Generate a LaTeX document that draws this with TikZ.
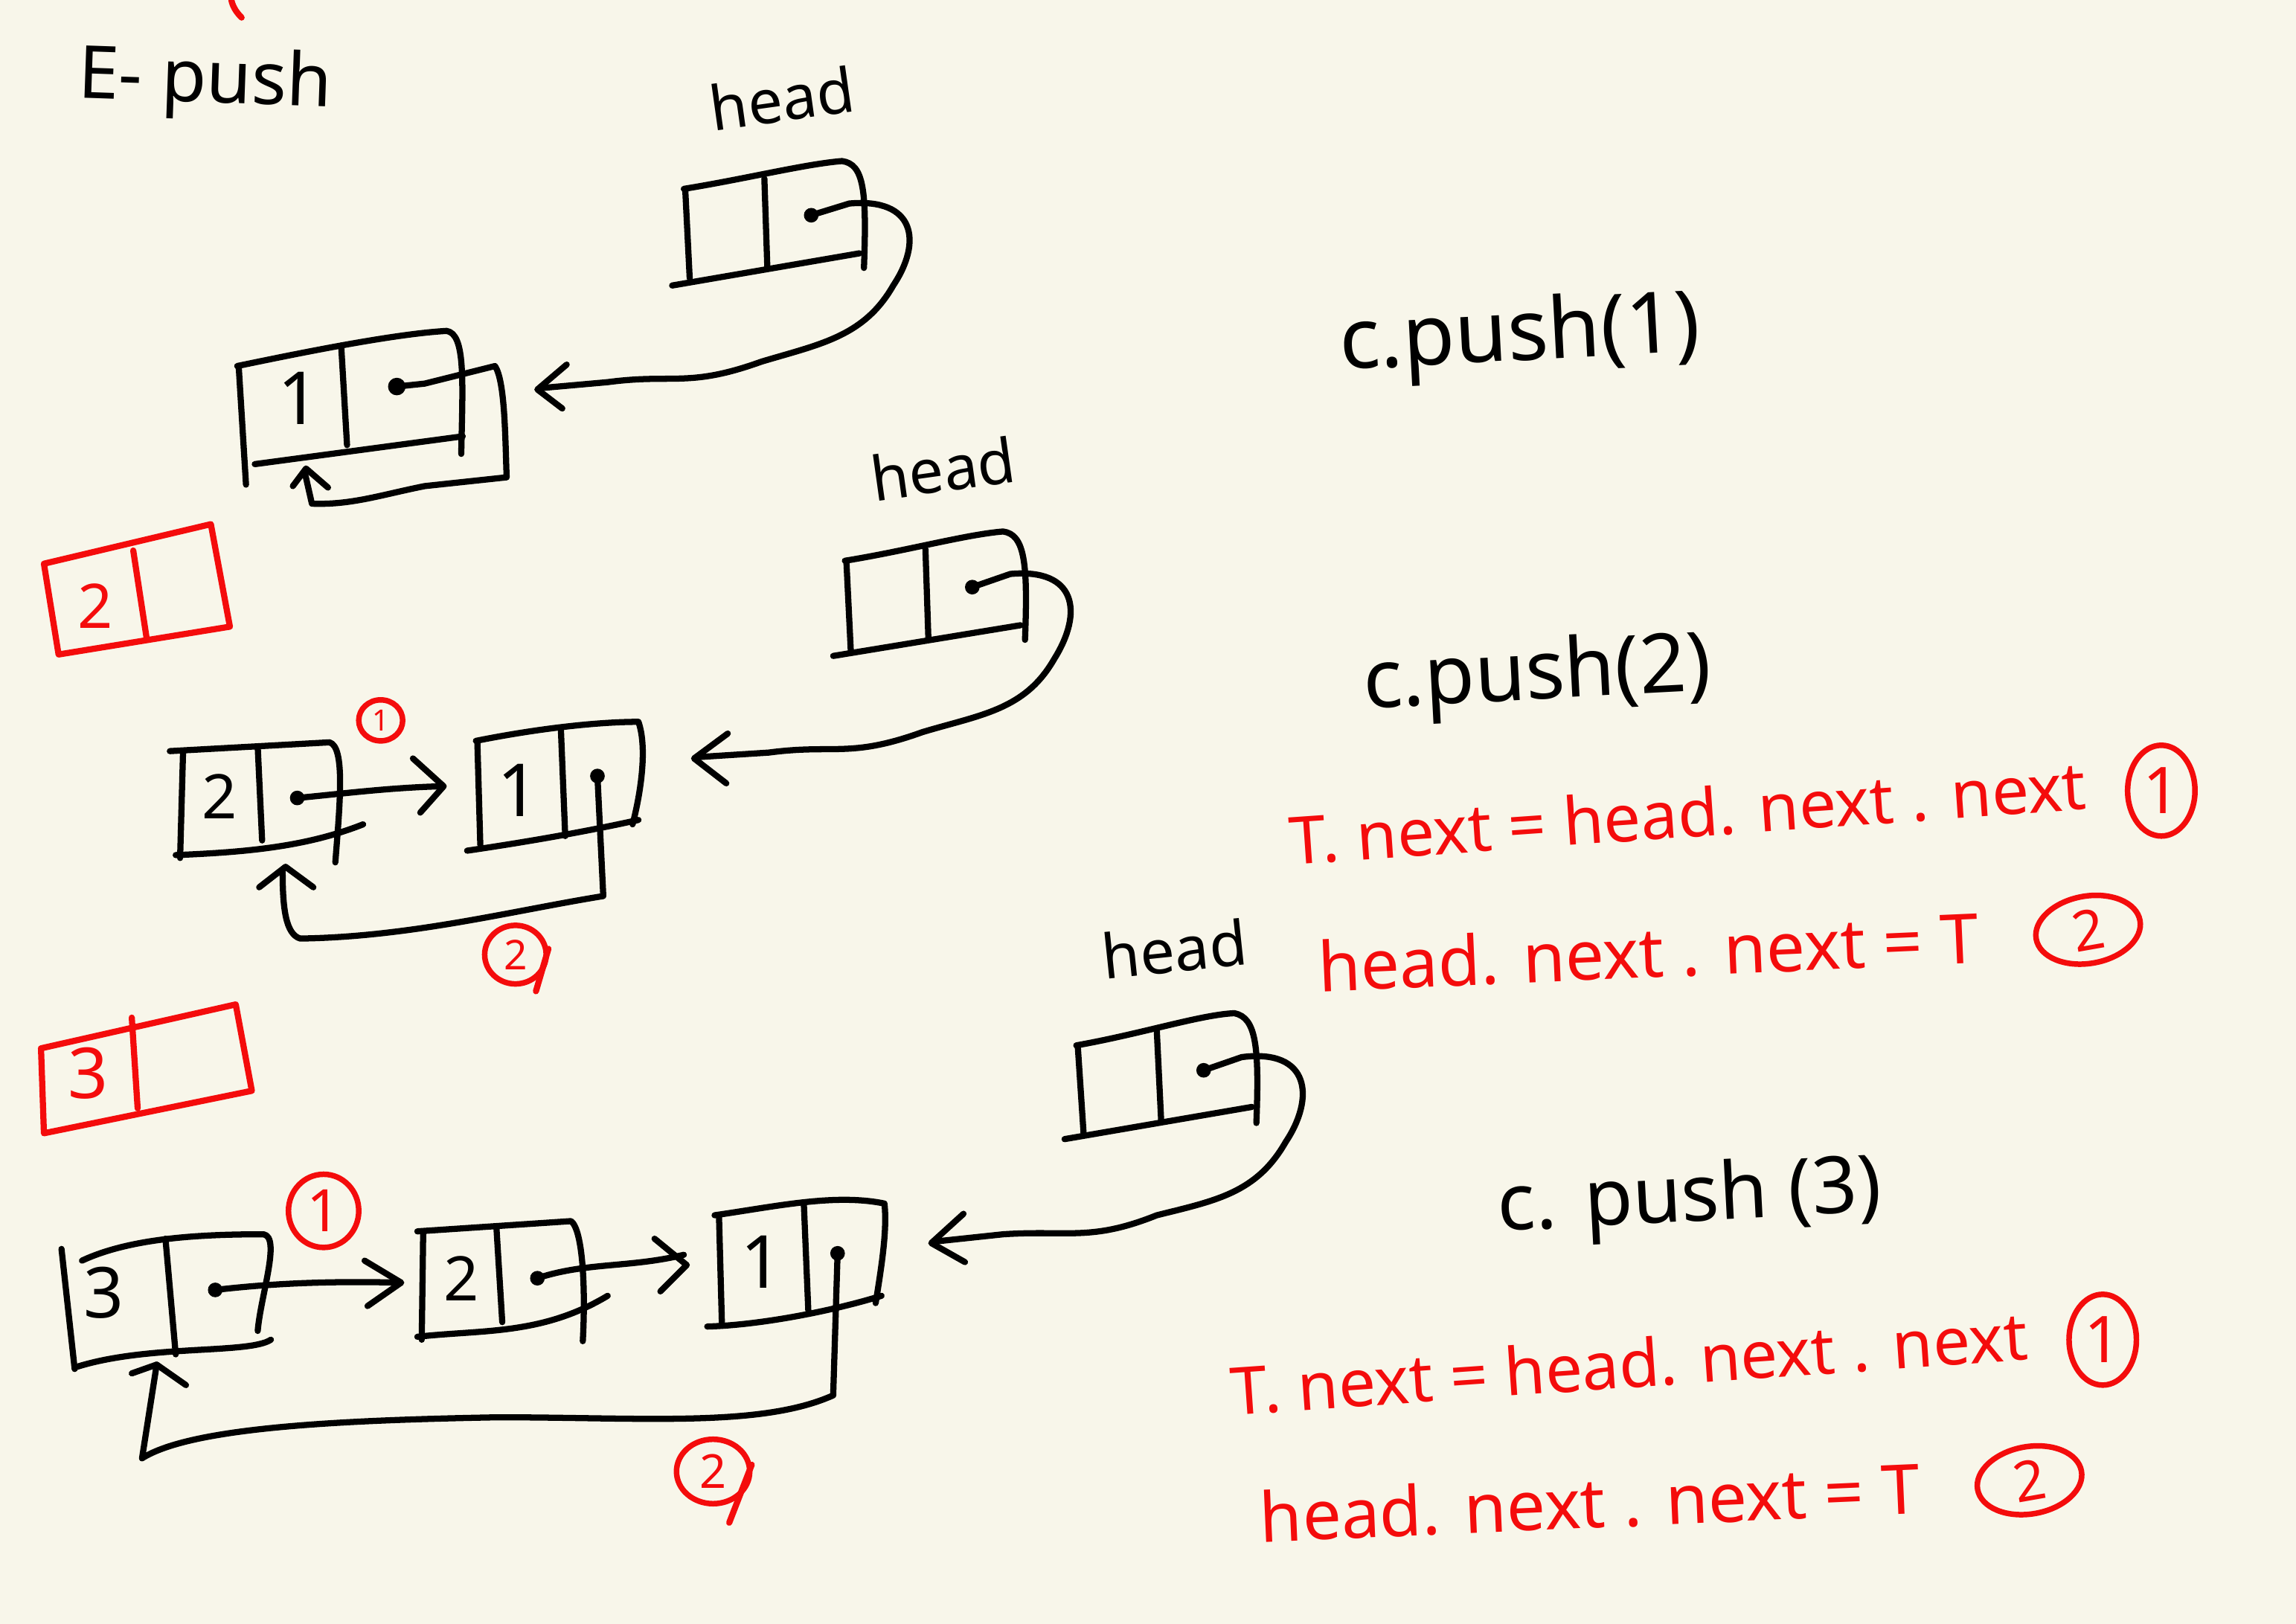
\documentclass[tikz,border=0pt]{standalone}
\usepackage{fontspec}
\usetikzlibrary{shapes.geometric}
\setmainfont{Noto Sans}
\definecolor{paper}{HTML}{F8F6EA}
\definecolor{inkred}{HTML}{F40C0C}
\tikzset{
 x=0.5pt,y=-0.5pt,
 ink/.style={draw=black,line width=2.1pt,line cap=round,line join=round},
 redink/.style={draw=inkred,line width=2.1pt,line cap=round,line join=round},
 blacktext/.style={text=black,inner sep=0pt},
 redtext/.style={text=inkred,inner sep=0pt},
 dotb/.style={fill=black,draw=none},
 circ/.style={redtext,draw=inkred,ellipse,line width=1.9pt,inner sep=0pt},
}
\begin{document}
\begin{tikzpicture}
\path[use as bounding box,fill=paper] (0,0) rectangle (1568,1109);
\draw[redink] (158,0) .. controls (159,5) and (162,9) .. (165,12);
% title
\node[blacktext,font=\fontsize{25}{25}\selectfont,rotate=-2] (title) at (140,57) {E- push};
% head 1
\node[blacktext,font=\fontsize{21}{21}\selectfont,rotate=8] (h1) at (534,67) {head};
\draw[ink] (467,129) .. controls (510,122) and (550,112) .. (575,110) .. controls (590,112) and (592,130) .. (590,183);
\draw[ink] (468,130) -- (471,190);
\draw[ink] (522,122) -- (524,182);
\draw[ink] (459,195) -- (587,173);
\fill[dotb] (554,147) circle (5);
\draw[ink] (554,147) -- (580,139) .. controls (625,135) and (630,165) .. (610,195) .. controls (590,230) and (560,235) .. (520,247) .. controls (470,265) and (460,255) .. (415,261) -- (370,265);
\draw[ink] (387,249) -- (367,266) -- (384,279);
% node 1
\draw[ink] (162,250) .. controls (210,240) and (270,228) .. (305,226) .. controls (318,228) and (316,260) .. (315,310);
\draw[ink] (163,250) -- (168,331);
\draw[ink] (233,236) -- (237,304);
\draw[ink] (174,317) -- (316,298);
\node[blacktext,font=\fontsize{25}{25}\selectfont] (v1) at (204,272) {1};
\fill[dotb] (271,264) circle (6);
\draw[ink] (271,264) -- (290,262) -- (338,250) .. controls (345,260) and (345,300) .. (346,326) -- (290,332) .. controls (260,338) and (240,345) .. (213,344) -- (208,322);
\draw[ink] (200,332) -- (209,320) -- (224,333);
% c.push(1)
\node[blacktext,font=\fontsize{29}{29}\selectfont,rotate=3] (p1) at (1038,231) {c.push(1)};
% red box 2
\draw[redink] (30,385) -- (144,358) -- (157,428) -- (40,447) -- cycle;
\draw[redink] (91,376) -- (100,435);
\node[redtext,font=\fontsize{21}{21}\selectfont] (r2) at (65,414) {2};
% head 2
\node[blacktext,font=\fontsize{21}{21}\selectfont,rotate=8] (h2) at (644,320) {head};
\draw[ink] (577,383) .. controls (620,376) and (660,365) .. (685,363) .. controls (700,365) and (702,385) .. (700,437);
\draw[ink] (578,383) -- (581,444);
\draw[ink] (632,375) -- (634,436);
\draw[ink] (569,448) -- (697,427);
\fill[dotb] (664,401) circle (5);
\draw[ink] (664,401) -- (690,392) .. controls (735,388) and (740,418) .. (720,450) .. controls (700,485) and (670,488) .. (630,500) .. controls (580,518) and (570,508) .. (525,514) -- (478,517);
\draw[ink] (497,501) -- (474,518) -- (496,535);
% node 2 (value 2)
\draw[ink] (116,513) -- (225,507) .. controls (236,510) and (232,550) .. (229,589);
\draw[ink] (125,514) -- (123,586);
\draw[ink] (176,510) -- (179,574);
\draw[ink] (120,584) .. controls (170,582) and (210,578) .. (248,563);
\node[blacktext,font=\fontsize{21}{21}\selectfont] (v2) at (150,544) {2};
\fill[dotb] (203,545) circle (5);
\draw[ink] (203,545) .. controls (235,542) and (265,538) .. (302,537);
\draw[ink] (282,518) -- (303,537) -- (287,555);
% node 1 second row
\draw[ink] (325,506) .. controls (370,497) and (410,493) .. (436,493) .. controls (442,510) and (438,540) .. (432,563);
\draw[ink] (326,507) -- (328,577);
\draw[ink] (383,497) -- (386,571);
\draw[ink] (319,581) .. controls (360,575) and (400,568) .. (436,560);
\node[blacktext,font=\fontsize{25}{25}\selectfont] (v1b) at (354,540) {1};
\fill[dotb] (408,530) circle (5);
\draw[ink] (408,530) -- (412,612) .. controls (350,622) and (280,640) .. (205,641) .. controls (195,638) and (193,620) .. (193,595);
\draw[ink] (177,606) -- (195,592) -- (214,606);
% labels circled
\node[circ,minimum width=15pt,minimum height=14pt,font=\fontsize{10}{10}\selectfont] (c1a) at (260,492) {1};
\node[circ,minimum width=21pt,minimum height=20pt,font=\fontsize{14}{14}\selectfont] (c2a) at (352,652) {2};
\draw[redink] (c2a.10) -- (366,677);
% c.push(2)
\node[blacktext,font=\fontsize{28}{28}\selectfont,rotate=3] (p2) at (1050,463) {c.push(2)};
% red code 1
\node[redtext,font=\fontsize{22.5}{22.5}\selectfont,rotate=4,anchor=west] (t1a) at (880,574) {T. next = head. next . next};
\node[circ,minimum width=23pt,minimum height=31pt,font=\fontsize{22}{22}\selectfont] (c1b) at (1476,540) {1};
\node[redtext,font=\fontsize{23.5}{23.5}\selectfont,rotate=2.5,anchor=west] (t2a) at (900,660) {head. next . next = T};
\node[circ,minimum width=36pt,minimum height=23pt,font=\fontsize{19}{19}\selectfont,rotate=10] (c2b) at (1426,635) {2};
% red box 3
\draw[redink] (28,716) -- (161,686) -- (172,745) -- (30,774) -- cycle;
\draw[redink] (90,695) -- (94,757);
\node[redtext,font=\fontsize{24}{24}\selectfont] (r3) at (60,733) {3};
% head 3
\node[blacktext,font=\fontsize{21}{21}\selectfont,rotate=6] (h3) at (802,648) {head};
\draw[ink] (735,714) .. controls (780,706) and (820,693) .. (843,692) .. controls (858,695) and (860,715) .. (858,767);
\draw[ink] (736,714) -- (740,774);
\draw[ink] (790,704) -- (793,766);
\draw[ink] (727,778) -- (855,756);
\fill[dotb] (822,731) circle (5);
\draw[ink] (822,731) -- (848,722) .. controls (895,716) and (898,750) .. (878,780) .. controls (858,815) and (830,820) .. (790,830) .. controls (745,848) and (730,840) .. (685,843) -- (638,848);
\draw[ink] (658,829) -- (636,849) -- (659,862);
% node 3
\draw[ink] (56,861) .. controls (90,845) and (140,843) .. (180,843) .. controls (192,845) and (178,885) .. (176,909);
\draw[ink] (42,853) -- (51,935);
\draw[ink] (113,846) -- (120,925);
\draw[ink] (51,934) .. controls (100,918) and (170,925) .. (185,915);
\node[blacktext,font=\fontsize{24}{24}\selectfont] (v3) at (71,883) {3};
\fill[dotb] (147,881) circle (5);
\draw[ink] (147,881) .. controls (190,876) and (230,875) .. (272,876);
\draw[ink] (249,861) -- (274,876) -- (251,892);
% node 2 row 3
\draw[ink] (285,841) -- (390,834) .. controls (398,840) and (400,880) .. (398,916);
\draw[ink] (289,842) -- (288,915);
\draw[ink] (339,838) -- (343,903);
\draw[ink] (285,913) .. controls (330,908) and (370,912) .. (415,885);
\node[blacktext,font=\fontsize{21}{21}\selectfont] (v2c) at (315,873) {2};
\fill[dotb] (367,873) circle (5);
\draw[ink] (367,873) .. controls (400,862) and (430,866) .. (467,857);
\draw[ink] (447,846) -- (469,864) -- (451,882);
% node 1 row 3
\draw[ink] (488,830) .. controls (530,824) and (570,815) .. (604,822) .. controls (606,840) and (602,865) .. (598,890);
\draw[ink] (491,830) -- (493,904);
\draw[ink] (549,823) -- (552,895);
\draw[ink] (483,906) .. controls (520,905) and (570,895) .. (602,885);
\node[blacktext,font=\fontsize{25}{25}\selectfont] (v1c) at (520,862) {1};
\fill[dotb] (572,856) circle (5);
\draw[ink] (572,856) -- (569,953) .. controls (520,975) and (440,968) .. (340,968) .. controls (230,970) and (130,975) .. (97,996) -- (107,932);
\draw[ink] (90,938) -- (107,932) -- (127,946);
\node[circ,minimum width=24pt,minimum height=25pt,font=\fontsize{20}{20}\selectfont] (c1c) at (221,827) {1};
\node[circ,minimum width=25pt,minimum height=22pt,font=\fontsize{16}{16}\selectfont] (c2c) at (487,1005) {2};
\draw[redink] (c2c.10) -- (498,1040);
% c.push(3)
\node[blacktext,font=\fontsize{27}{27}\selectfont,rotate=3] (p3) at (1154,820) {c. push (3)};
% red code 2
\node[redtext,font=\fontsize{22.5}{22.5}\selectfont,rotate=4,anchor=west] (t1b) at (840,950) {T. next = head. next . next};
\node[circ,minimum width=23pt,minimum height=31pt,font=\fontsize{22}{22}\selectfont] (c1d) at (1436,915) {1};
\node[redtext,font=\fontsize{23.5}{23.5}\selectfont,rotate=2.5,anchor=west] (t2b) at (860,1036) {head. next . next = T};
\node[circ,minimum width=36pt,minimum height=23pt,font=\fontsize{19}{19}\selectfont,rotate=10] (c2d) at (1386,1011) {2};
\end{tikzpicture}
\end{document}
